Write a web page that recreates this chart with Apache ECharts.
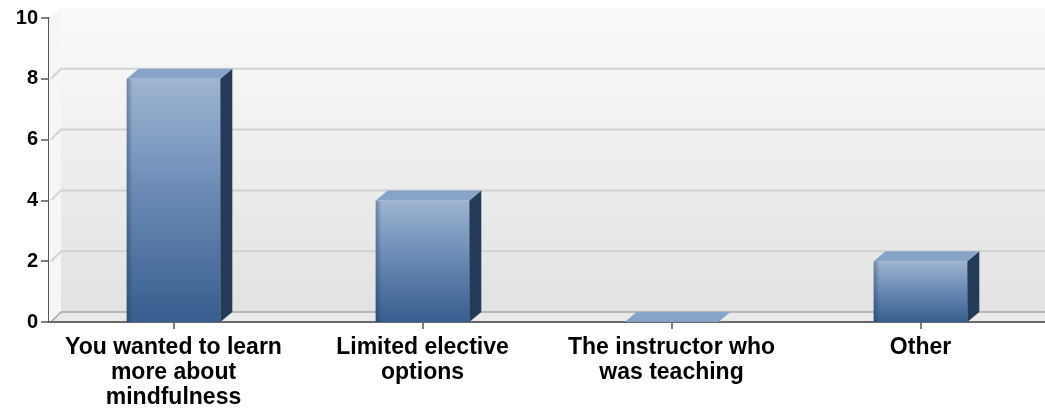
<!DOCTYPE html>
<html>
<head>
<meta charset="utf-8">
<script src="https://cdn.jsdelivr.net/npm/echarts@6/dist/echarts.min.js"></script>
<style>
  html, body { margin: 0; padding: 0; background: #fff; }
  #chart { width: 1045px; height: 411px; }
</style>
</head>
<body>
<div id="chart"></div>
<script>
// categories and values
var categories = [
  "You wanted to learn\nmore about\nmindfulness",
  "Limited elective\noptions",
  "The instructor who\nwas teaching",
  "Other"
];
var values = [8, 4, 0, 2];
var yTicks = [0, 2, 4, 6, 8, 10];

// 3D depth offset
var DX = 12, DY = -10;

var chart = echarts.init(document.getElementById("chart"));

function renderWall(params, api) {
  var cs = params.coordSys;
  var yb = api.coord([0, 0])[1];
  var left = cs.x, right = cs.x + cs.width + 10;
  var children = [];
  // back wall
  children.push({
    type: "rect",
    shape: { x: left + DX, y: cs.y + DY, width: right - left - DX, height: yb - cs.y },
    style: {
      fill: new echarts.graphic.LinearGradient(0, 0, 0, 1, [
        { offset: 0, color: "#fafafa" },
        { offset: 1, color: "#e2e2e2" }
      ])
    }
  });
  // left wall strip
  children.push({
    type: "polygon",
    shape: { points: [[left, cs.y], [left + DX, cs.y + DY], [left + DX, yb + DY], [left, yb]] },
    style: { fill: "#f6f6f6" }
  });
  // gridlines on the back wall
  for (var i = 1; i < yTicks.length - 1; i++) {
    var y = api.coord([0, yTicks[i]])[1];
    children.push({
      type: "polyline",
      shape: { points: [[left + 2, y], [left + DX, y + DY], [right, y + DY]] },
      style: { stroke: "#d2d2d2", lineWidth: 2, fill: null }
    });
  }
  // floor
  children.push({
    type: "polygon",
    shape: { points: [[left, yb], [left + DX, yb + DY], [right, yb + DY], [right, yb]] },
    style: { fill: "#e9e9e9" }
  });
  children.push({
    type: "polyline",
    shape: { points: [[left + 2, yb], [left + DX, yb + DY], [right, yb + DY]] },
    style: { stroke: "#a8a8a8", lineWidth: 1.5, fill: null }
  });
  children.push({
    type: "line",
    shape: { x1: left, y1: yb, x2: right, y2: yb },
    style: { stroke: "#6a6a6a", lineWidth: 2 }
  });
  return { type: "group", children: children };
}

function renderBar(params, api) {
  var c = api.coord([api.value(0), api.value(1)]);
  var base = api.coord([api.value(0), 0]);
  var bw = api.size([1, 0])[0] * 0.376;
  var x0 = c[0] - bw / 2, x1 = c[0] + bw / 2;
  var yt = c[1], yb = base[1];
  var h = yb - yt;
  var children = [];
  if (h > 0.5) {
    children.push({
      type: "rect",
      shape: { x: x0, y: yt, width: bw, height: h },
      style: {
        fill: new echarts.graphic.LinearGradient(0, 0, 0, 1, [
          { offset: 0, color: "#9fb5d1" },
          { offset: 0.45, color: "#6c8cb7" },
          { offset: 1, color: "#375d8e" }
        ])
      }
    });
    // shading on the left edge
    children.push({
      type: "rect",
      shape: { x: x0, y: yt, width: 6, height: h },
      style: {
        fill: new echarts.graphic.LinearGradient(0, 0, 1, 0, [
          { offset: 0, color: "rgba(20,40,70,0.35)" },
          { offset: 1, color: "rgba(20,40,70,0)" }
        ])
      }
    });
    // side face
    children.push({
      type: "polygon",
      shape: { points: [[x1, yt], [x1 + DX, yt + DY], [x1 + DX, yb + DY], [x1, yb]] },
      style: { fill: "#233a59" }
    });
  }
  // top face
  children.push({
    type: "polygon",
    shape: { points: [[x0, yt], [x0 + DX, yt + DY], [x1 + DX, yt + DY], [x1, yt]] },
    style: { fill: "#87a4c8" }
  });
  return { type: "group", children: children };
}

var barData = values.map(function (v, i) { return [i, v]; });

chart.setOption({
  backgroundColor: "#ffffff",
  animation: false,
  grid: { left: 49, top: 18, width: 1001, height: 304, containLabel: false },
  xAxis: {
    type: "category",
    data: categories,
    axisLine: { show: false },
    axisTick: {
      show: true,
      alignWithLabel: true,
      length: 7,
      lineStyle: { color: "#555", width: 1.5 }
    },
    axisLabel: {
      interval: 0,
      margin: 13,
      color: "#000",
      fontFamily: "Liberation Sans",
      fontWeight: "bold",
      fontSize: 23,
      lineHeight: 25
    },
    splitLine: { show: false }
  },
  yAxis: {
    type: "value",
    min: 0,
    max: 10,
    interval: 2,
    axisLine: { show: true, lineStyle: { color: "#555", width: 2 } },
    axisTick: { show: true, length: 8, lineStyle: { color: "#555", width: 1.5 } },
    axisLabel: {
      margin: 11,
      color: "#000",
      fontFamily: "Liberation Sans",
      fontWeight: "bold",
      fontSize: 20
    },
    splitLine: { show: false }
  },
  series: [
    {
      name: "wall",
      type: "custom",
      z: 1,
      silent: true,
      renderItem: renderWall,
      data: [[0, 0]]
    },
    {
      name: "bars",
      type: "custom",
      z: 3,
      renderItem: renderBar,
      data: barData
    }
  ]
});
</script>
</body>
</html>
